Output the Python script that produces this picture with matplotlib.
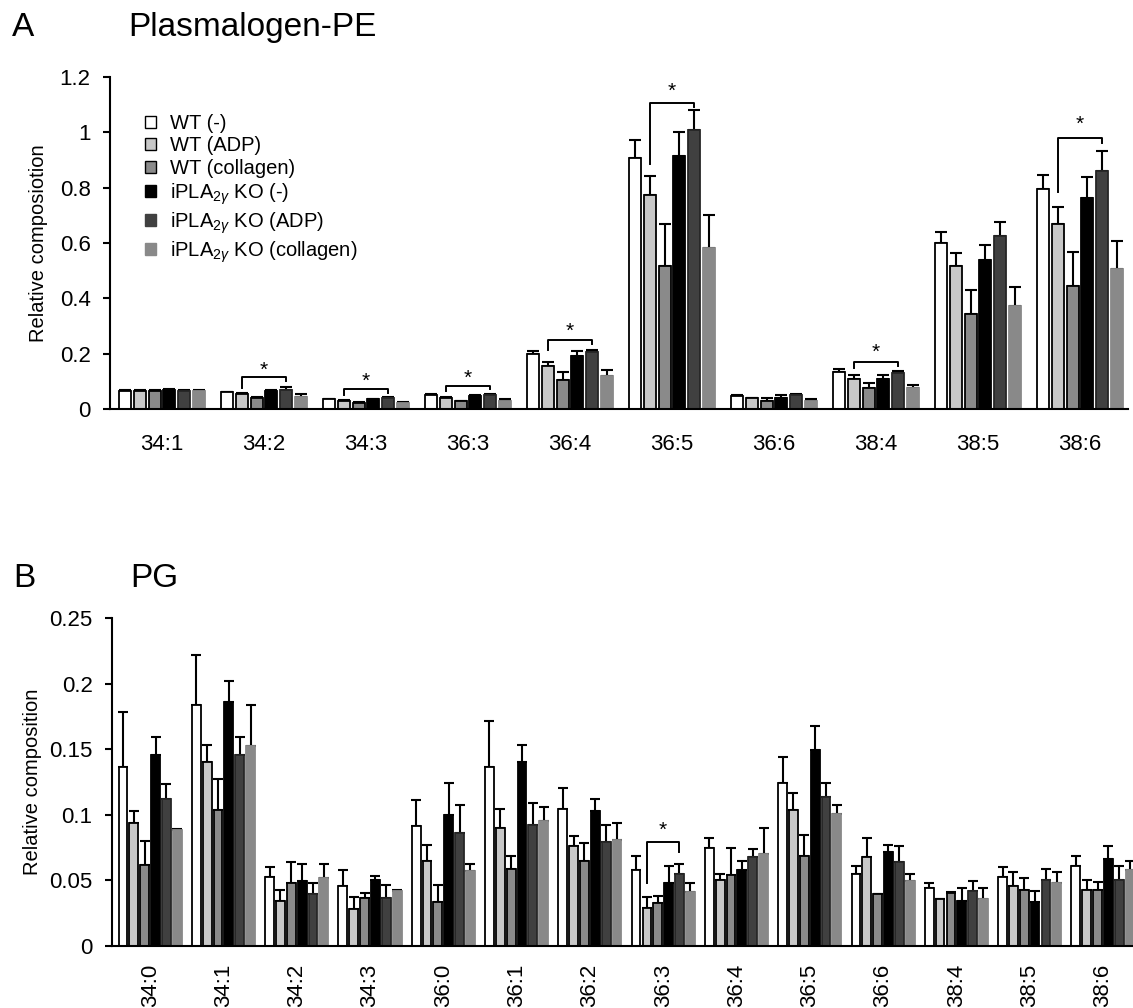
import matplotlib
matplotlib.use('Agg')
import matplotlib.pyplot as plt
from matplotlib.patches import Patch
import numpy as np

plt.rcParams['font.family'] = ['Liberation Sans', 'DejaVu Sans']
plt.rcParams['mathtext.fontset'] = 'custom'
plt.rcParams['mathtext.rm'] = 'Liberation Sans'
plt.rcParams['mathtext.it'] = 'Liberation Sans:italic'

# ---- data ----
series = ['WT (-)', 'WT (ADP)', 'WT (collagen)',
          r'iPLA$_{\mathit{2\gamma}}$ KO (-)', r'iPLA$_{\mathit{2\gamma}}$ KO (ADP)',
          r'iPLA$_{\mathit{2\gamma}}$ KO (collagen)']

pe_species = ['34:1', '34:2', '34:3', '36:3', '36:4', '36:5', '36:6', '38:4', '38:5', '38:6']
# rows = species, columns = series
pe_mean = [
    [0.065, 0.065, 0.065, 0.070, 0.065, 0.065],
    [0.060, 0.055, 0.040, 0.065, 0.068, 0.045],
    [0.035, 0.030, 0.022, 0.035, 0.040, 0.022],
    [0.050, 0.040, 0.028, 0.048, 0.052, 0.030],
    [0.198, 0.157, 0.105, 0.190, 0.205, 0.120],
    [0.907, 0.774, 0.516, 0.913, 1.008, 0.583],
    [0.047, 0.038, 0.030, 0.040, 0.050, 0.030],
    [0.132, 0.108, 0.075, 0.110, 0.129, 0.075],
    [0.599, 0.516, 0.342, 0.540, 0.627, 0.371],
    [0.795, 0.668, 0.446, 0.763, 0.861, 0.506],
]
pe_err = [
    [0.002, 0.002, 0.002, 0.003, 0.002, 0.003],
    [0.002, 0.002, 0.002, 0.003, 0.010, 0.010],
    [0.002, 0.003, 0.002, 0.002, 0.004, 0.003],
    [0.003, 0.004, 0.002, 0.002, 0.003, 0.007],
    [0.012, 0.013, 0.030, 0.020, 0.010, 0.020],
    [0.065, 0.069, 0.153, 0.087, 0.073, 0.120],
    [0.002, 0.003, 0.010, 0.010, 0.003, 0.005],
    [0.012, 0.015, 0.018, 0.013, 0.009, 0.012],
    [0.039, 0.047, 0.088, 0.053, 0.050, 0.069],
    [0.052, 0.063, 0.123, 0.074, 0.070, 0.103],
]
# significance brackets: group, bracket height, left leg end, right leg end, star height
pe_sig_group = [1, 2, 3, 4, 5, 7, 9]
pe_sig_top = [0.114, 0.072, 0.084, 0.250, 1.106, 0.169, 0.978]
pe_sig_left = [0.076, 0.052, 0.064, 0.212, 0.886, 0.147, 0.783]
pe_sig_right = [0.100, 0.058, 0.072, 0.236, 1.090, 0.155, 0.963]
pe_sig_star = [0.140, 0.100, 0.112, 0.280, 1.150, 0.205, 1.030]

pg_species = ['34:0', '34:1', '34:2', '34:3', '36:0', '36:1', '36:2', '36:3',
              '36:4', '36:5', '36:6', '38:4', '38:5', '38:6']
pg_mean = [
    [0.1365, 0.0934, 0.0615, 0.1457, 0.1120, 0.0885],
    [0.1834, 0.1403, 0.1033, 0.1862, 0.1457, 0.1523],
    [0.0528, 0.0344, 0.0477, 0.0492, 0.0393, 0.0518],
    [0.0454, 0.0281, 0.0365, 0.0503, 0.0365, 0.0423],
    [0.0918, 0.0650, 0.0332, 0.0997, 0.0862, 0.0569],
    [0.1365, 0.0898, 0.0589, 0.1406, 0.0923, 0.0952],
    [0.1046, 0.0760, 0.0650, 0.1026, 0.0791, 0.0806],
    [0.0577, 0.0293, 0.0329, 0.0480, 0.0551, 0.0411],
    [0.0747, 0.0503, 0.0538, 0.0582, 0.0676, 0.0702],
    [0.1245, 0.1033, 0.0689, 0.1492, 0.1133, 0.1003],
    [0.0551, 0.0676, 0.0393, 0.0714, 0.0640, 0.0492],
    [0.0439, 0.0357, 0.0403, 0.0344, 0.0416, 0.0357],
    [0.0528, 0.0454, 0.0429, 0.0332, 0.0505, 0.0480],
    [0.0612, 0.0429, 0.0429, 0.0666, 0.0505, 0.0577],
]
pg_err = [
    [0.0421, 0.0092, 0.0186, 0.0135, 0.0112, 0.0010],
    [0.0383, 0.0127, 0.0237, 0.0161, 0.0135, 0.0314],
    [0.0077, 0.0085, 0.0163, 0.0136, 0.0084, 0.0110],
    [0.0123, 0.0089, 0.0041, 0.0028, 0.0102, 0.0006],
    [0.0192, 0.0123, 0.0135, 0.0248, 0.0209, 0.0059],
    [0.0347, 0.0148, 0.0100, 0.0125, 0.0164, 0.0109],
    [0.0158, 0.0077, 0.0136, 0.0096, 0.0132, 0.0130],
    [0.0112, 0.0077, 0.0054, 0.0132, 0.0077, 0.0069],
    [0.0077, 0.0048, 0.0209, 0.0068, 0.0064, 0.0196],
    [0.0199, 0.0135, 0.0160, 0.0184, 0.0112, 0.0068],
    [0.0061, 0.0148, 0.0000, 0.0059, 0.0120, 0.0059],
    [0.0041, 0.0005, 0.0005, 0.0097, 0.0076, 0.0084],
    [0.0074, 0.0110, 0.0086, 0.0084, 0.0084, 0.0084],
    [0.0077, 0.0074, 0.0061, 0.0094, 0.0107, 0.0073],
]
pg_sig_group = [7]
pg_sig_top = [0.0791]
pg_sig_left = [0.048]
pg_sig_right = [0.0717]
pg_sig_star = [0.0885]

fills = ['white', '#c8c8c8', '#8a8a8a', 'black', '#404040', '#898989']
edges = ['black', 'black', 'black', 'black', '#262626', '#898989']

W, H = 1133, 1008
fig = plt.figure(figsize=(W / 100, H / 100), dpi=100)
ax1 = fig.add_axes([110 / W, 1 - 409 / H, 1018 / W, 332 / H])
ax2 = fig.add_axes([112 / W, 1 - 946 / H, 1021 / W, 328 / H])


def draw_panel(ax, species, mean, err, slot, width, capsize, sig):
    mean = np.array(mean)
    err = np.array(err)
    x = np.arange(len(species))
    for j in range(mean.shape[1]):
        xs = x + (j - 2.5) * slot
        ax.errorbar(xs, mean[:, j], yerr=[np.zeros(len(x)), err[:, j]], fmt='none',
                    ecolor='black', elinewidth=1.5, capsize=capsize, capthick=1.5, zorder=1)
        ax.bar(xs, mean[:, j], width=width, color=fills[j], edgecolor=edges[j],
               linewidth=1.3, zorder=2)
    for g, top, left, right, star in zip(*sig):
        x1 = g + (1 - 2.5) * slot
        x4 = g + (4 - 2.5) * slot
        ax.plot([x1, x1, x4, x4], [left, top, top, right], color='black', lw=1.4, zorder=3)
        ax.text((x1 + x4) / 2, star, '*', ha='center', va='center', fontsize=15)
    ax.set_xticks(x)
    for s in ['top', 'right']:
        ax.spines[s].set_visible(False)
    for s in ['left', 'bottom']:
        ax.spines[s].set_linewidth(1.5)
    ax.tick_params(axis='y', direction='out', length=5, width=1.5, labelsize=16, pad=9)


draw_panel(ax1, pe_species, pe_mean, pe_err, 0.145, 0.118, 4.2,
           (pe_sig_group, pe_sig_top, pe_sig_left, pe_sig_right, pe_sig_star))
ax1.set_xlim(-0.51, 9.47)
ax1.set_ylim(0, 1.2)
ax1.set_yticks([0, 0.2, 0.4, 0.6, 0.8, 1.0, 1.2])
ax1.set_yticklabels(['0', '0.2', '0.4', '0.6', '0.8', '1', '1.2'])
ax1.set_xticklabels(pe_species, fontsize=16)
ax1.tick_params(axis='x', length=0, pad=18)

draw_panel(ax2, pg_species, pg_mean, pg_err, 0.148, 0.12, 3.3,
           (pg_sig_group, pg_sig_top, pg_sig_left, pg_sig_right, pg_sig_star))
ax2.set_xlim(-0.52, 13.41)
ax2.set_ylim(0, 0.25)
ax2.set_yticks([0, 0.05, 0.1, 0.15, 0.2, 0.25])
ax2.set_yticklabels(['0', '0.05', '0.1', '0.15', '0.2', '0.25'])
ax2.set_xticklabels(pg_species, fontsize=16, rotation=90)
ax2.tick_params(axis='x', length=0, pad=13)

# legend
handles = [Patch(facecolor=fills[j], edgecolor=('black' if j < 3 else fills[j]), linewidth=1.0)
           for j in range(6)]
fig.legend(handles, series, loc='upper left', bbox_to_anchor=(145 / W, 1 - 114 / H),
           frameon=False, fontsize=14.5, handlelength=0.55, handleheight=0.55,
           handletextpad=0.7, labelspacing=0.17, borderaxespad=0, borderpad=0)

# titles and axis labels
fig.text(12 / W, 1 - 36 / H, 'A', fontsize=24, va='baseline')
fig.text(128 / W, 1 - 36 / H, 'Plasmalogen-PE', fontsize=24, va='baseline')
fig.text(13 / W, 1 - 587 / H, 'B', fontsize=24, va='baseline')
fig.text(130 / W, 1 - 587 / H, 'PG', fontsize=24, va='baseline')
fig.text(39 / W, 1 - 243 / H, 'Relative composiotion', fontsize=14.5, rotation=90,
         ha='center', va='center')
fig.text(33 / W, 1 - 782 / H, 'Relative composition', fontsize=14.5, rotation=90,
         ha='center', va='center')

fig.savefig('out.png', dpi=100)
